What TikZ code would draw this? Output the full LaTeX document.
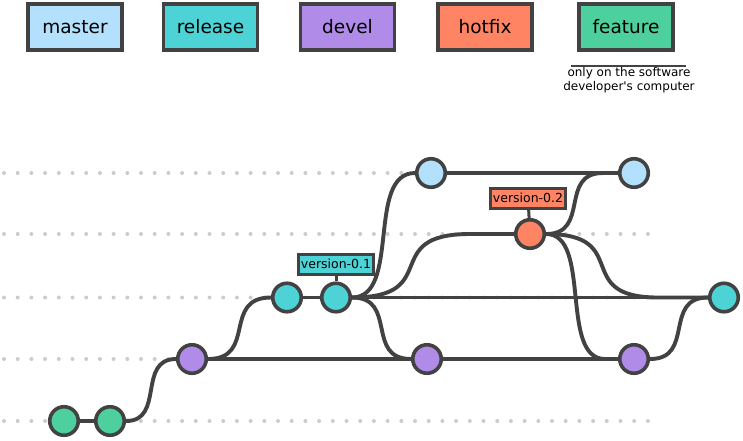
\documentclass[tikz,border=0pt]{standalone}
\usepackage{fontspec}
\setmainfont{DejaVu Sans}
\newfontfamily\notefont{DejaVu Sans}
\usetikzlibrary{calc}
\pgfdeclarelayer{bg}
\pgfsetlayers{bg,main}
\definecolor{edge}{HTML}{424242}
\definecolor{cmaster}{HTML}{B3E0FC}
\definecolor{crelease}{HTML}{4DD2D6}
\definecolor{cdevel}{HTML}{B08BE8}
\definecolor{chotfix}{HTML}{FE8463}
\definecolor{cfeature}{HTML}{4ECF9E}
\definecolor{dotgray}{HTML}{CCCCCC}
\begin{document}
\begin{tikzpicture}[x=1pt,y=-1pt,
  commit/.style={circle,draw=edge,line width=3.6pt,minimum size=28.5pt,inner sep=0pt},
  legendbox/.style={draw=edge,line width=3.5pt,minimum width=94pt,minimum height=46pt,
    inner sep=0pt,font=\fontsize{18.5}{22}\selectfont},
  tagbox/.style={draw=edge,line width=3pt,minimum width=75pt,minimum height=20pt,
    inner sep=0pt,font=\fontsize{12.5}{14}\selectfont},
  branch/.style={draw=edge,line width=3.9pt},
  % S-shaped bend: horizontal at both ends, steep in the middle
  sbend/.style={to path={let \p1=(\tikztostart), \p2=(\tikztotarget),
      \n1={0.78*(\x2-\x1)} in .. controls +(\n1,0) and +(-\n1,0) .. (\tikztotarget) \tikztonodes}},
  lane/.style={draw=dotgray,line width=4pt,line cap=round,dash pattern=on 0pt off 13.7pt},
  noterule/.style={draw=edge,line width=1.3pt}]
\useasboundingbox (0,0) rectangle (743,440);

% legend
\node[legendbox,fill=cmaster]  (lmaster)  at (75,27)    {master};
\node[legendbox,fill=crelease] (lrelease) at (210.5,27) {release};
\node[legendbox,fill=cdevel]   (ldevel)   at (347.5,27) {devel};
\node[legendbox,fill=chotfix]  (lhotfix)  at (485,27)   {hotfix};
\node[legendbox,fill=cfeature] (lfeature) at (626,27)   {feature};
\draw[noterule] (571,66) -- (686,66);
\node[align=center,inner sep=0pt,font=\notefont\fontsize{12}{14}\selectfont] (note) at (629,80)
  {only on the software\\developer's computer};

% commits
\node[commit,fill=cfeature] (f1) at (64,421)  {};
\node[commit,fill=cfeature] (f2) at (110,421) {};
\node[commit,fill=cdevel]   (d1) at (192,359) {};
\node[commit,fill=crelease] (r1) at (287,297.5) {};
\node[commit,fill=crelease] (r2) at (336,297.5) {};
\node[commit,fill=cmaster]  (m1) at (431,173) {};
\node[commit,fill=chotfix]  (h1) at (530,234) {};
\node[commit,fill=cdevel]   (d2) at (427,359) {};
\node[commit,fill=cmaster]  (m2) at (634,173) {};
\node[commit,fill=cdevel]   (d3) at (634,359) {};
\node[commit,fill=crelease] (r3) at (724,297.5) {};

% tags
\node[tagbox,fill=crelease] (v1) at (336,264) {version-0.1};
\node[tagbox,fill=chotfix]  (v2) at (528,198) {version-0.2};

% merge points where curves join a straight lane
\coordinate (rh) at (470,234);
\coordinate (hm) at (603,173);
\coordinate (hr) at (658,297.5);
\coordinate (hd) at (605,359);

\begin{pgfonlayer}{bg}
  \foreach \y in {173,234,297.5,359,421}
    \draw[lane] (4,\y) -- (650,\y);
  \draw[branch] (f1) -- (f2);
  \draw[branch] (f2.east) to[sbend] (d1.west);
  \draw[branch] (d1) -- (d2);
  \draw[branch] (d1.east) to[sbend] (r1.west);
  \draw[branch] (r1) -- (r2);
  \draw[branch] (r2.east) to[sbend] (m1.west);
  \draw[branch] (r2.east) to[sbend] (rh) -- (h1);
  \draw[branch] (r2) -- (r3);
  \draw[branch] (r2.east) to[sbend] (d2.west);
  \draw[branch] (m1) -- (m2);
  \draw[branch] (h1.east) to[sbend] (hm) -- (m2);
  \draw[branch] (h1.east) to[sbend] (hr) -- (r3);
  \draw[branch] (h1.east) to[sbend] (hd) -- (d3);
  \draw[branch] (d2) -- (d3);
  \draw[branch] (d3.east) to[sbend] (r3.west);
  \draw[branch,line width=3pt] (v1) -- (r2);
  \draw[branch,line width=3pt] (v2) -- (h1);
\end{pgfonlayer}
\end{tikzpicture}
\end{document}
